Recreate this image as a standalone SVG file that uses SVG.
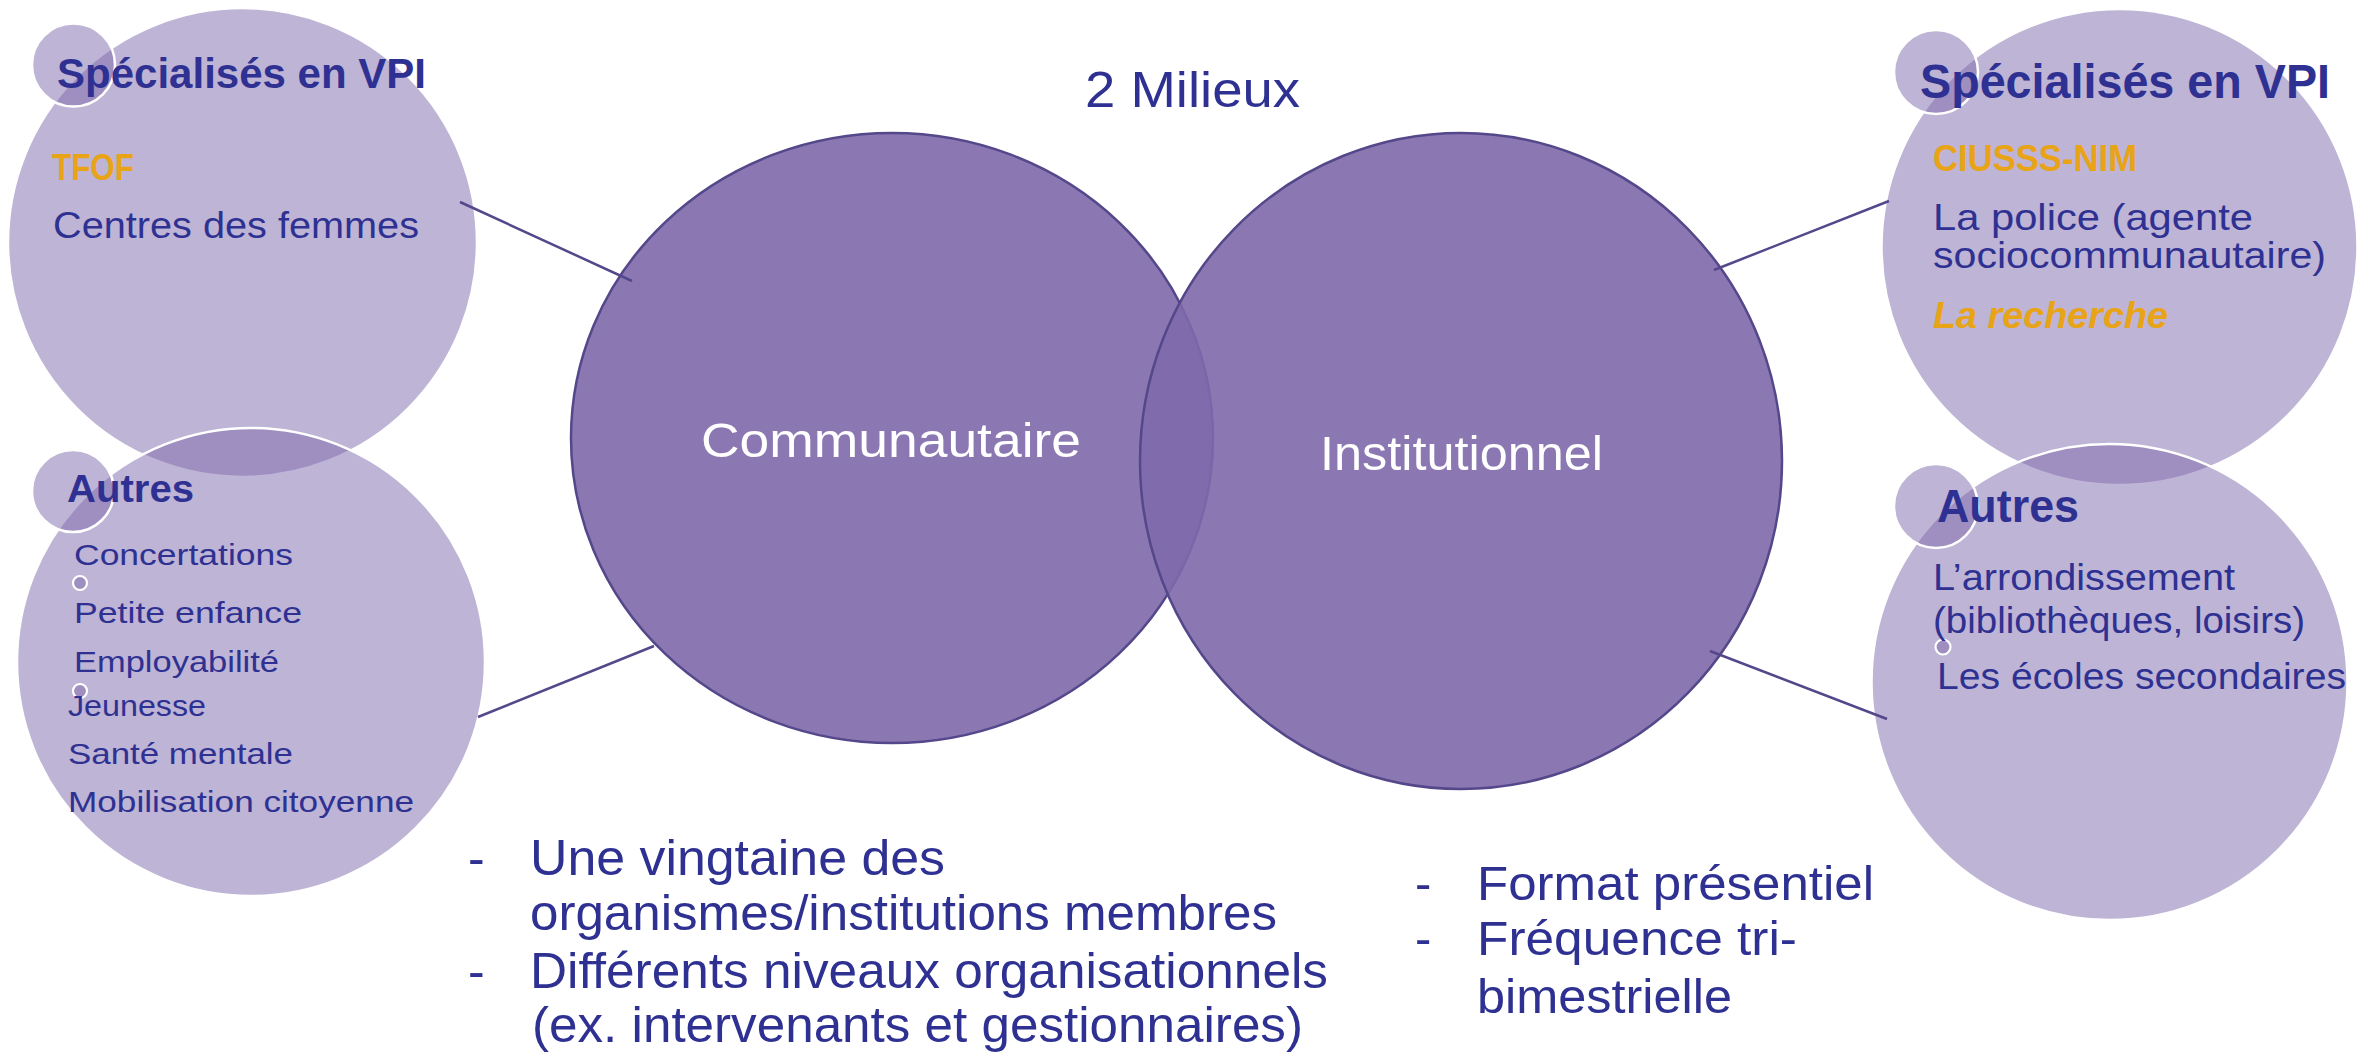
<svg xmlns="http://www.w3.org/2000/svg" width="2377" height="1052" viewBox="0 0 2377 1052">
<defs>
<style>
.t{font-family:"Liberation Sans",Arial,sans-serif;fill:#2E3192}
.b{font-weight:bold}
.o{fill:#E8A317;font-weight:bold}
.w{fill:#FFFFFF}
.bubble{fill:#7E69AB;fill-opacity:0.5;stroke:#FFFFFF;stroke-width:2.5}
.ell{fill:#7E69AB;fill-opacity:0.9;stroke:#54478A;stroke-width:2.5}
.bul{fill:#7E69AB;fill-opacity:0.5;stroke:#FFFFFF;stroke-width:2.2}
.con{stroke:#54478A;stroke-width:2.5;fill:none}
</style>
</defs>
<rect x="0" y="0" width="2377" height="1052" fill="#FFFFFF"/>

<g id="node-specialises-communautaire">
<circle class="bubble" cx="242.5" cy="242.5" r="234.5"/>
<circle class="bubble" cx="73.5" cy="65" r="41.5"/>
<text class="t b" x="57" y="88" font-size="42" textLength="369" lengthAdjust="spacingAndGlyphs">Spécialisés en VPI</text>
<text class="t o" x="52" y="180" font-size="36" textLength="82" lengthAdjust="spacingAndGlyphs">TFOF</text>
<text class="t" x="53" y="238" font-size="37" textLength="366" lengthAdjust="spacingAndGlyphs">Centres des femmes</text>
</g>

<g id="node-autres-communautaire">
<circle class="bubble" cx="251" cy="662" r="234"/>
<circle class="bubble" cx="73" cy="491" r="41"/>
<circle class="bul" cx="80" cy="583" r="7"/>
<circle class="bul" cx="80" cy="691" r="7"/>
<text class="t b" x="67" y="502" font-size="39" textLength="127" lengthAdjust="spacingAndGlyphs">Autres</text>
<text class="t" x="74" y="565" font-size="30" textLength="219" lengthAdjust="spacingAndGlyphs">Concertations</text>
<text class="t" x="74" y="623" font-size="30" textLength="228" lengthAdjust="spacingAndGlyphs">Petite enfance</text>
<text class="t" x="74" y="672" font-size="30" textLength="205" lengthAdjust="spacingAndGlyphs">Employabilité</text>
<text class="t" x="68" y="716" font-size="30" textLength="138" lengthAdjust="spacingAndGlyphs">Jeunesse</text>
<text class="t" x="68" y="764" font-size="30" textLength="225" lengthAdjust="spacingAndGlyphs">Santé mentale</text>
<text class="t" x="68" y="812" font-size="30" textLength="346" lengthAdjust="spacingAndGlyphs">Mobilisation citoyenne</text>
</g>

<g id="node-specialises-institutionnel">
<circle class="bubble" cx="2119.5" cy="247" r="238"/>
<circle class="bubble" cx="1936" cy="72" r="42"/>
<text class="t b" x="1920" y="98" font-size="48" textLength="410" lengthAdjust="spacingAndGlyphs">Spécialisés en VPI</text>
<text class="t o" x="1933" y="171" font-size="37" textLength="204" lengthAdjust="spacingAndGlyphs">CIUSSS-NIM</text>
<text class="t" x="1933" y="230" font-size="37" textLength="320" lengthAdjust="spacingAndGlyphs">La police (agente</text>
<text class="t" x="1933" y="268" font-size="37" textLength="393" lengthAdjust="spacingAndGlyphs">sociocommunautaire)</text>
<text class="t o" x="1933" y="328" font-size="37" font-style="italic" textLength="235" lengthAdjust="spacingAndGlyphs">La recherche</text>
</g>

<g id="node-autres-institutionnel">
<circle class="bubble" cx="2109.5" cy="682" r="238"/>
<circle class="bubble" cx="1936" cy="506" r="42"/>
<circle class="bul" cx="1943" cy="647" r="7.5"/>
<text class="t b" x="1937" y="522" font-size="46" textLength="142" lengthAdjust="spacingAndGlyphs">Autres</text>
<text class="t" x="1933" y="590" font-size="37" textLength="302" lengthAdjust="spacingAndGlyphs">L’arrondissement</text>
<text class="t" x="1933" y="633" font-size="37" textLength="372" lengthAdjust="spacingAndGlyphs">(bibliothèques, loisirs)</text>
<text class="t" x="1937" y="689" font-size="37" textLength="409" lengthAdjust="spacingAndGlyphs">Les écoles secondaires</text>
</g>

<g id="node-communautaire">
<ellipse class="ell" cx="892" cy="438" rx="321" ry="305"/>
</g>
<g id="node-institutionnel">
<ellipse class="ell" cx="1461" cy="461" rx="321" ry="328"/>
</g>
<g id="labels-milieux">
<text class="t w" x="701" y="457" font-size="49" textLength="380" lengthAdjust="spacingAndGlyphs">Communautaire</text>
<text class="t w" x="1320" y="470" font-size="49" textLength="283" lengthAdjust="spacingAndGlyphs">Institutionnel</text>
</g>

<g id="connectors">
<line class="con" x1="460" y1="202" x2="632" y2="281"/>
<line class="con" x1="478" y1="717" x2="654" y2="646"/>
<line class="con" x1="1714" y1="270" x2="1889" y2="201"/>
<line class="con" x1="1710" y1="651" x2="1887" y2="719"/>
</g>

<g id="title">
<text class="t" x="1085" y="107" font-size="50" textLength="215" lengthAdjust="spacingAndGlyphs">2 Milieux</text>
</g>

<g id="notes-communautaire">
<text class="t" x="468" y="875" font-size="50">-</text>
<text class="t" x="530" y="875" font-size="50" textLength="415" lengthAdjust="spacingAndGlyphs">Une vingtaine des</text>
<text class="t" x="530" y="930" font-size="50" textLength="747" lengthAdjust="spacingAndGlyphs">organismes/institutions membres</text>
<text class="t" x="468" y="988" font-size="50">-</text>
<text class="t" x="530" y="988" font-size="50" textLength="798" lengthAdjust="spacingAndGlyphs">Différents niveaux organisationnels</text>
<text class="t" x="532" y="1042" font-size="50" textLength="771" lengthAdjust="spacingAndGlyphs">(ex. intervenants et gestionnaires)</text>
</g>

<g id="notes-institutionnel">
<text class="t" x="1415" y="900" font-size="49">-</text>
<text class="t" x="1477" y="900" font-size="49" textLength="397" lengthAdjust="spacingAndGlyphs">Format présentiel</text>
<text class="t" x="1415" y="955" font-size="49">-</text>
<text class="t" x="1477" y="955" font-size="49" textLength="320" lengthAdjust="spacingAndGlyphs">Fréquence tri-</text>
<text class="t" x="1477" y="1013" font-size="49" textLength="255" lengthAdjust="spacingAndGlyphs">bimestrielle</text>
</g>
</svg>
